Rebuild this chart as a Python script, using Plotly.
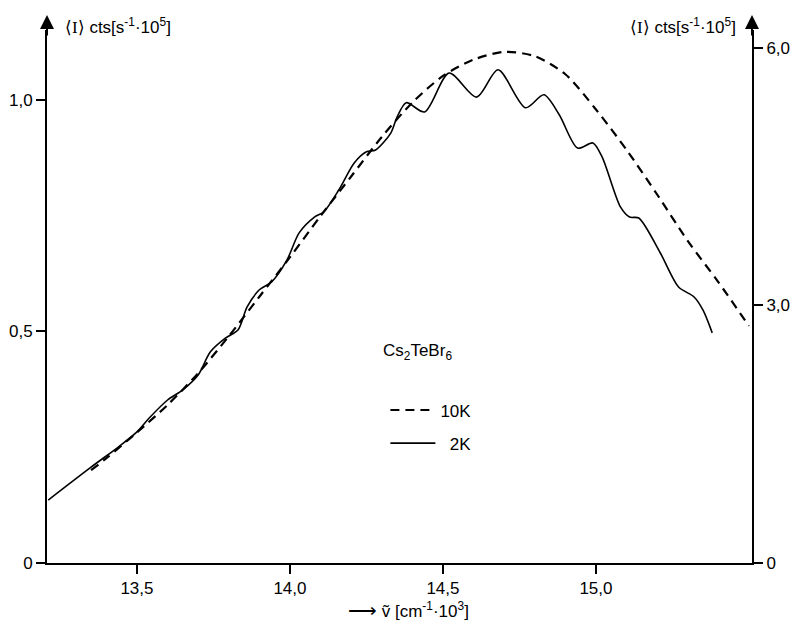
import plotly.graph_objects as go

# 10K (dashed) spectrum, right axis units
x_10k = [13.35, 13.40, 13.50, 13.60, 13.70, 13.80, 13.90, 14.00, 14.10, 14.20, 14.30, 14.40,
         14.50, 14.60, 14.70, 14.80, 14.90, 15.00, 15.10, 15.20, 15.30, 15.40, 15.50]
y_10k = [1.08, 1.22, 1.52, 1.84, 2.21, 2.64, 3.10, 3.56, 4.04, 4.50, 4.96, 5.36,
         5.67, 5.86, 5.95, 5.90, 5.69, 5.28, 4.81, 4.29, 3.75, 3.27, 2.76]

# 2K (solid) spectrum, left axis units
x_2k = [13.21, 13.35, 13.44, 13.50, 13.54, 13.60, 13.65, 13.70, 13.74, 13.79, 13.83, 13.86,
        13.90, 13.94, 13.99, 14.03, 14.08, 14.11, 14.16, 14.21, 14.25, 14.28, 14.33, 14.35,
        14.38, 14.44, 14.52, 14.61, 14.68, 14.77, 14.83, 14.88, 14.94, 14.99, 15.02, 15.08,
        15.11, 15.14, 15.21, 15.27, 15.32, 15.35, 15.38]
y_2k = [0.136, 0.207, 0.251, 0.283, 0.313, 0.352, 0.374, 0.406, 0.456, 0.486, 0.503, 0.553,
        0.590, 0.607, 0.654, 0.713, 0.747, 0.758, 0.806, 0.864, 0.888, 0.892, 0.929, 0.963,
        0.994, 0.974, 1.058, 1.006, 1.065, 0.983, 1.011, 0.968, 0.896, 0.907, 0.877, 0.769,
        0.747, 0.745, 0.670, 0.596, 0.575, 0.546, 0.497]

x_ticks = [13.5, 14.0, 14.5, 15.0]
x_tick_labels = ["13,5", "14,0", "14,5", "15,0"]
yl_ticks = [0, 0.5, 1.0]
yl_tick_labels = ["0", "0,5", "1,0"]
yr_ticks = [0, 3.0, 6.0]
yr_tick_labels = ["0", "3,0", "6,0"]

FONT = "Liberation Sans, Arial, sans-serif"

fig = go.Figure()
fig.add_trace(go.Scatter(x=x_10k, y=y_10k, yaxis="y2", mode="lines", name="10K",
                         line=dict(color="black", width=2.2, dash="9px,6px", shape="spline", smoothing=0.8),
                         legendgroup="a"))
fig.add_trace(go.Scatter(x=x_2k, y=y_2k, mode="lines", name="  2K",
                         line=dict(color="black", width=1.6, shape="spline", smoothing=0.8),
                         legendgroup="b"))

axis_common = dict(showline=True, linecolor="black", linewidth=2, ticks="outside",
                   ticklen=9, tickwidth=1.5, tickcolor="black", showgrid=False, zeroline=False,
                   automargin=False,
                   tickfont=dict(family=FONT, size=17, color="black"))

fig.update_layout(
    width=797, height=626,
    margin=dict(l=47, r=45, t=30, b=63),
    paper_bgcolor="white", plot_bgcolor="white",
    font=dict(family=FONT, size=17, color="black"),
    xaxis=dict(range=[13.206, 15.51], tickvals=x_ticks, ticktext=x_tick_labels, **axis_common),
    yaxis=dict(range=[0, 1.151], tickvals=yl_ticks, ticktext=yl_tick_labels, **axis_common),
    yaxis2=dict(range=[0, 6.205], tickvals=yr_ticks, ticktext=yr_tick_labels, overlaying="y",
                side="right", **axis_common),
    showlegend=True,
    legend=dict(x=0.48, y=0.32, xanchor="left", yanchor="top", bgcolor="rgba(0,0,0,0)",
                font=dict(family=FONT, size=17, color="black"), tracegroupgap=8,
                traceorder="grouped", itemwidth=45),
)

ylabel = "⟨<span style='font-family:Liberation Serif'>I</span>⟩ cts[s<sup>-1</sup>·10<sup>5</sup>]"
ann = [
    dict(x=0.0227, y=1.0075, xref="paper", yref="paper", xanchor="left", yanchor="middle",
         text=ylabel, showarrow=False),
    dict(x=0.980, y=1.0075, xref="paper", yref="paper", xanchor="right", yanchor="middle",
         text=ylabel, showarrow=False),
    dict(x=0.513, y=-0.089, xref="paper", yref="paper", xanchor="center", yanchor="middle",
         text="<span style='font-size:20px'>⟶</span> ṽ [cm<sup>-1</sup>·10<sup>3</sup>]", showarrow=False),
    dict(x=0.525, y=0.396, xref="paper", yref="paper", xanchor="center", yanchor="middle",
         text="Cs<sub>2</sub>TeBr<sub>6</sub>", showarrow=False),
    dict(x=0, y=1.028, xref="paper", yref="paper", text="", showarrow=True, ax=0, ay=22,
         arrowhead=2, arrowsize=1.4, arrowwidth=2, arrowcolor="black"),
    dict(x=1, y=1.028, xref="paper", yref="paper", text="", showarrow=True, ax=0, ay=22,
         arrowhead=2, arrowsize=1.4, arrowwidth=2, arrowcolor="black"),
]
fig.update_layout(annotations=ann)

fig.write_html("out.html", post_script="document.body.style.margin='0';",
               config={"displayModeBar": False})
